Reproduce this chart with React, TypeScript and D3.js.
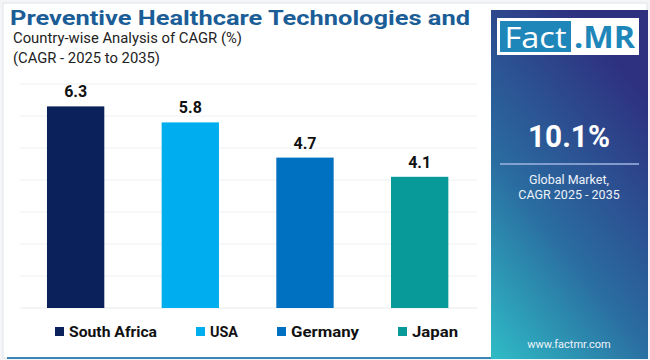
import React from "react";
import * as d3 from "d3";

const categories = ["South Africa", "USA", "Germany", "Japan"];
const values = [6.3, 5.8, 4.7, 4.1];
const colors = ["#0b215c", "#00aeef", "#0070c0", "#089a98"];
const gridTicks = [0, 1, 2, 3, 4, 5, 6, 7];
const titleLines = ["Preventive Healthcare Technologies and", "Country-wise Analysis of CAGR (%)", "(CAGR - 2025 to 2035)"];
const globalValue = "10.1%";
const globalLabel = ["Global Market,", "CAGR 2025 - 2035"];
const legendWidths = [88, 28, 68, 46];
const legendX = [55, 196, 277, 398];

export default function App() {
  const x = d3.scaleBand<string>().domain(categories).range([18.3, 477]).paddingInner(0.5).paddingOuter(0.25);
  const y = d3.scaleLinear().domain([0, 7]).range([308, 84]);
  const font = "Roboto, 'Open Sans', sans-serif";
  return (
    <svg width={650} height={360} style={{ position: "absolute", left: 0, top: 0 }} fontFamily={font}>
      <defs>
        <linearGradient id="panel" x1="0" y1="1" x2="0.55" y2="0">
          <stop offset="0" stopColor="#2fbcc6" />
          <stop offset="0.45" stopColor="#2a6ca0" />
          <stop offset="1" stopColor="#2e3080" />
        </linearGradient>
        <linearGradient id="uline" x1="0" y1="0" x2="1" y2="0">
          <stop offset="0" stopColor="#2a6fa5" />
          <stop offset="1" stopColor="#2a8fc8" />
        </linearGradient>
      </defs>
      <rect x={0} y={0} width={650} height={360} fill="#f4f5f7" />
      <rect x={3} y={3} width={644} height={355} fill="#ffffff" stroke="#e2e4e8" />
      {/* title */}
      <text x={10} y={25} fontSize={21} fontWeight={700} fill="#1b5d96" textLength={460} lengthAdjust="spacingAndGlyphs">{titleLines[0]}</text>
      <text x={13} y={43} fontSize={14} fill="#222" textLength={229} lengthAdjust="spacingAndGlyphs">{titleLines[1]}</text>
      <text x={13} y={63} fontSize={14} fill="#222" textLength={147} lengthAdjust="spacingAndGlyphs">{titleLines[2]}</text>
      <line x1={5} x2={491} y1={69} y2={69} stroke="url(#uline)" strokeWidth={2} />
      {/* gridlines */}
      {gridTicks.map((t) => (
        <line key={t} x1={20} x2={477} y1={y(t)} y2={y(t)} stroke={t === 0 ? "#e8eaee" : "#eef0f3"} strokeWidth={1} />
      ))}
      {/* bars */}
      {categories.map((c, i) => (
        <g key={c}>
          <rect x={x(c)} y={y(values[i])} width={x.bandwidth()} height={y(0) - y(values[i])} fill={colors[i]} />
          <text x={(x(c) as number) + x.bandwidth() / 2} y={y(values[i]) - 9} textAnchor="middle" fontSize={16} fontWeight={700} fill="#111">
            {values[i].toFixed(1)}
          </text>
        </g>
      ))}
      {/* legend */}
      {categories.map((c, i) => (
        <g key={"lg" + c}>
          <rect x={legendX[i]} y={327} width={9} height={9} fill={colors[i]} />
          <text x={legendX[i] + 14} y={337} fontSize={15} fontWeight={700} fill="#111" textLength={legendWidths[i]} lengthAdjust="spacingAndGlyphs">{c}</text>
        </g>
      ))}
      <line x1={7} x2={491} y1={358} y2={358} stroke="#3a86b8" strokeWidth={2} />
      {/* right panel */}
      <rect x={491} y={10} width={157} height={349} fill="url(#panel)" />
      <rect x={497} y={18} width={142} height={37} fill="#ffffff" />
      <rect x={500} y={21} width={71} height={31} fill="#1f86ba" />
      <text x={535.5} y={48} textAnchor="middle" fontSize={30} fill="#ffffff" fontFamily="'Open Sans', sans-serif" textLength={62} lengthAdjust="spacingAndGlyphs">Fact</text>
      <text x={574} y={48} fontSize={30} fontWeight={700} fill="#1f86ba" fontFamily="'Open Sans', sans-serif" textLength={61} lengthAdjust="spacingAndGlyphs">.MR</text>
      <text x={569} y={147} textAnchor="middle" fontSize={32} fontWeight={700} fill="#ffffff" textLength={82} lengthAdjust="spacingAndGlyphs">{globalValue}</text>
      <line x1={500} x2={639} y1={164} y2={164} stroke="#9fb6e0" strokeWidth={1.5} />
      <text x={569} y={184} textAnchor="middle" fontSize={12.5} fill="#eef3fb">{globalLabel[0]}</text>
      <text x={569} y={199} textAnchor="middle" fontSize={12.5} fill="#eef3fb">{globalLabel[1]}</text>
      <text x={569} y={348} textAnchor="middle" fontSize={11} fill="#eef3fb">www.factmr.com</text>
    </svg>
  );
}
